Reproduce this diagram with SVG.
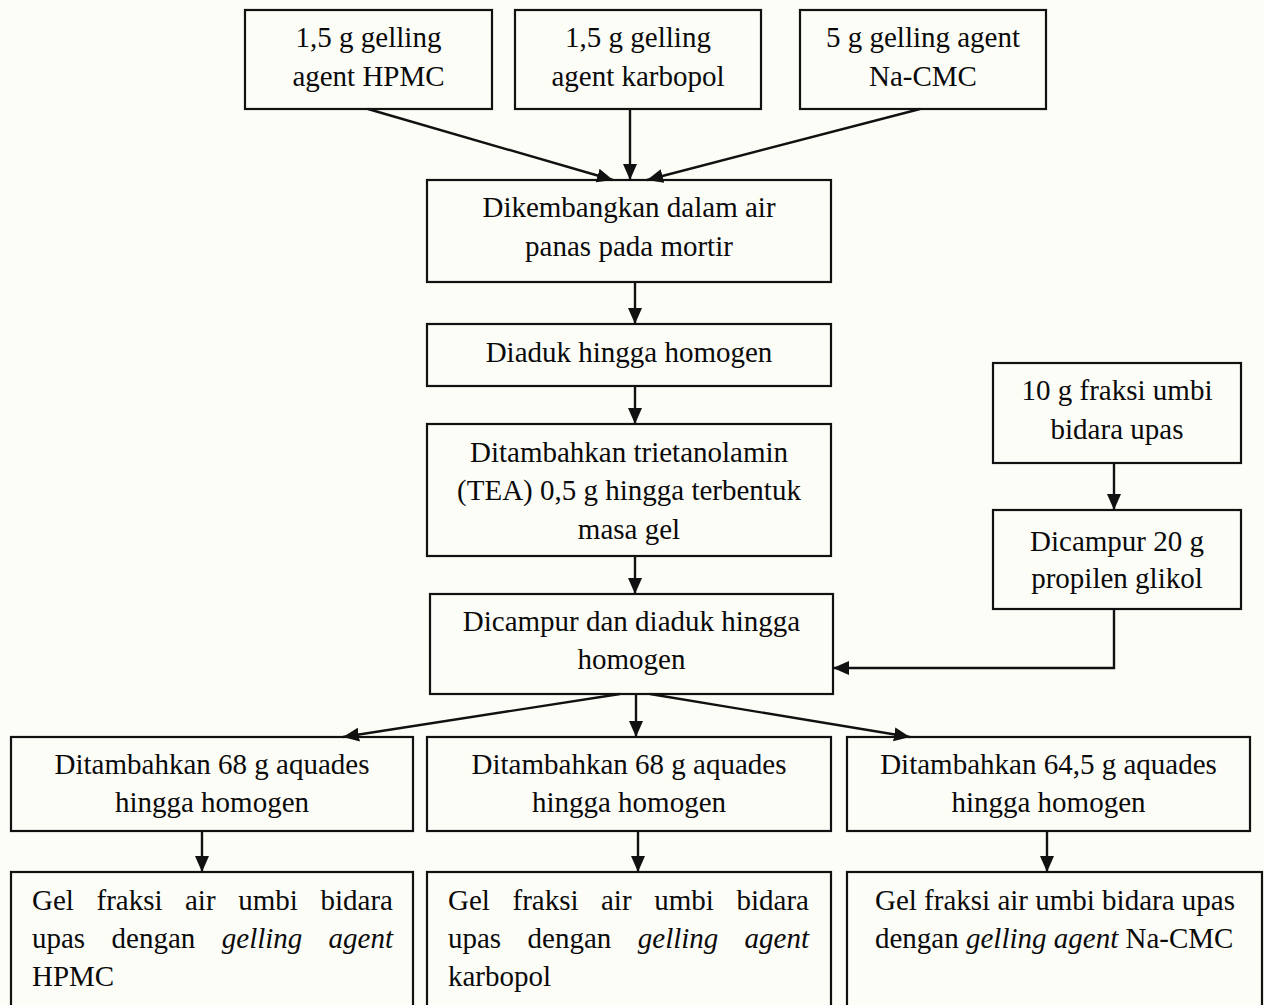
<svg xmlns="http://www.w3.org/2000/svg" width="1264" height="1005" viewBox="0 0 1264 1005">
  <style>
    .box { fill: none; stroke: #111; stroke-width: 2.2; }
    .t { font-family: "Liberation Serif", "Times New Roman", serif; font-size: 29px; fill: #0a0a0a; }
    .c { text-anchor: middle; }
    .e { text-anchor: end; }
    .i { font-style: italic; }
    .edge { fill: none; stroke: #111; stroke-width: 2.4; marker-end: url(#arrow); }
  </style>
  <defs>
    <marker id="arrow" markerUnits="userSpaceOnUse" markerWidth="17" markerHeight="15" refX="16" refY="7" orient="auto">
      <path d="M0,0 L16,7 L0,14 z" fill="#111"/>
    </marker>
  </defs>

  <rect width="1264" height="1005" fill="#fdfdf8"/>

  <!-- gelling agents -->
  <g id="hpmc">
    <rect class="box" x="245" y="10" width="247" height="99"/>
    <text class="t c" x="368.5" y="47">1,5 g gelling</text>
    <text class="t c" x="368.5" y="86">agent HPMC</text>
  </g>
  <g id="karbopol">
    <rect class="box" x="515" y="10" width="246" height="99"/>
    <text class="t c" x="638" y="47">1,5 g gelling</text>
    <text class="t c" x="638" y="86">agent karbopol</text>
  </g>
  <g id="nacmc">
    <rect class="box" x="800" y="10" width="246" height="99"/>
    <text class="t c" x="923" y="47">5 g gelling agent</text>
    <text class="t c" x="923" y="86">Na-CMC</text>
  </g>

  <!-- main process column -->
  <g id="dikembangkan">
    <rect class="box" x="427" y="180" width="404" height="102"/>
    <text class="t c" x="629" y="217">Dikembangkan dalam air</text>
    <text class="t c" x="629" y="256">panas pada mortir</text>
  </g>
  <g id="diaduk">
    <rect class="box" x="427" y="324" width="404" height="62"/>
    <text class="t c" x="629" y="362">Diaduk hingga homogen</text>
  </g>
  <g id="tea">
    <rect class="box" x="427" y="424" width="404" height="132"/>
    <text class="t c" x="629" y="462">Ditambahkan trietanolamin</text>
    <text class="t c" x="629" y="500">(TEA) 0,5 g hingga terbentuk</text>
    <text class="t c" x="629" y="539">masa gel</text>
  </g>
  <g id="dicampur">
    <rect class="box" x="430" y="594" width="403" height="100"/>
    <text class="t c" x="631.5" y="631">Dicampur dan diaduk hingga</text>
    <text class="t c" x="631.5" y="669">homogen</text>
  </g>

  <!-- extract branch -->
  <g id="fraksi">
    <rect class="box" x="993" y="363" width="248" height="100"/>
    <text class="t c" x="1117" y="400">10 g fraksi umbi</text>
    <text class="t c" x="1117" y="439">bidara upas</text>
  </g>
  <g id="propilen">
    <rect class="box" x="993" y="510" width="248" height="99"/>
    <text class="t c" x="1117" y="551">Dicampur 20 g</text>
    <text class="t c" x="1117" y="588">propilen glikol</text>
  </g>

  <!-- aquades additions -->
  <g id="aquades-hpmc">
    <rect class="box" x="11" y="737" width="402" height="94"/>
    <text class="t c" x="212" y="774">Ditambahkan 68 g aquades</text>
    <text class="t c" x="212" y="812">hingga homogen</text>
  </g>
  <g id="aquades-karbopol">
    <rect class="box" x="427" y="737" width="404" height="94"/>
    <text class="t c" x="629" y="774">Ditambahkan 68 g aquades</text>
    <text class="t c" x="629" y="812">hingga homogen</text>
  </g>
  <g id="aquades-nacmc">
    <rect class="box" x="847" y="737" width="403" height="94"/>
    <text class="t c" x="1048.5" y="774">Ditambahkan 64,5 g aquades</text>
    <text class="t c" x="1048.5" y="812">hingga homogen</text>
  </g>

  <!-- final gels (justified text) -->
  <g id="gel-hpmc">
    <rect class="box" x="11" y="872" width="402" height="140"/>
    <text class="t" x="32" y="910">Gel</text>
    <text class="t" x="96.5" y="910">fraksi</text>
    <text class="t" x="185" y="910">air</text>
    <text class="t" x="238.3" y="910">umbi</text>
    <text class="t e" x="393" y="910">bidara</text>
    <text class="t" x="32" y="948">upas</text>
    <text class="t" x="111.6" y="948">dengan</text>
    <text class="t i" x="221.8" y="948">gelling</text>
    <text class="t i e" x="393" y="948">agent</text>
    <text class="t" x="32" y="986">HPMC</text>
  </g>
  <g id="gel-karbopol">
    <rect class="box" x="427" y="872" width="404" height="140"/>
    <text class="t" x="448" y="910">Gel</text>
    <text class="t" x="512.5" y="910">fraksi</text>
    <text class="t" x="601" y="910">air</text>
    <text class="t" x="654.3" y="910">umbi</text>
    <text class="t e" x="809" y="910">bidara</text>
    <text class="t" x="448" y="948">upas</text>
    <text class="t" x="527.6" y="948">dengan</text>
    <text class="t i" x="637.8" y="948">gelling</text>
    <text class="t i e" x="809" y="948">agent</text>
    <text class="t" x="448" y="986">karbopol</text>
  </g>
  <g id="gel-nacmc">
    <rect class="box" x="847" y="872" width="415" height="140"/>
    <text class="t" x="875" y="910">Gel fraksi air umbi bidara upas</text>
    <text class="t" x="875" y="948">dengan <tspan class="i">gelling agent</tspan> Na-CMC</text>
  </g>

  <!-- connectors -->
  <g id="connectors">
    <line class="edge" x1="368" y1="109" x2="613" y2="180"/>
    <line class="edge" x1="630" y1="109" x2="630" y2="180"/>
    <line class="edge" x1="920" y1="109" x2="647" y2="180"/>
    <line class="edge" x1="635" y1="282" x2="635" y2="324"/>
    <line class="edge" x1="635" y1="386" x2="635" y2="424"/>
    <line class="edge" x1="635" y1="556" x2="635" y2="594"/>
    <line class="edge" x1="1114" y1="463" x2="1114" y2="510"/>
    <polyline class="edge" points="1114,609 1114,668 833,668"/>
    <line class="edge" x1="620" y1="694" x2="343" y2="737"/>
    <line class="edge" x1="636" y1="694" x2="636" y2="737"/>
    <line class="edge" x1="650" y1="694" x2="910" y2="737"/>
    <line class="edge" x1="202" y1="831" x2="202" y2="872"/>
    <line class="edge" x1="638" y1="831" x2="638" y2="872"/>
    <line class="edge" x1="1047" y1="831" x2="1047" y2="872"/>
  </g>
</svg>
